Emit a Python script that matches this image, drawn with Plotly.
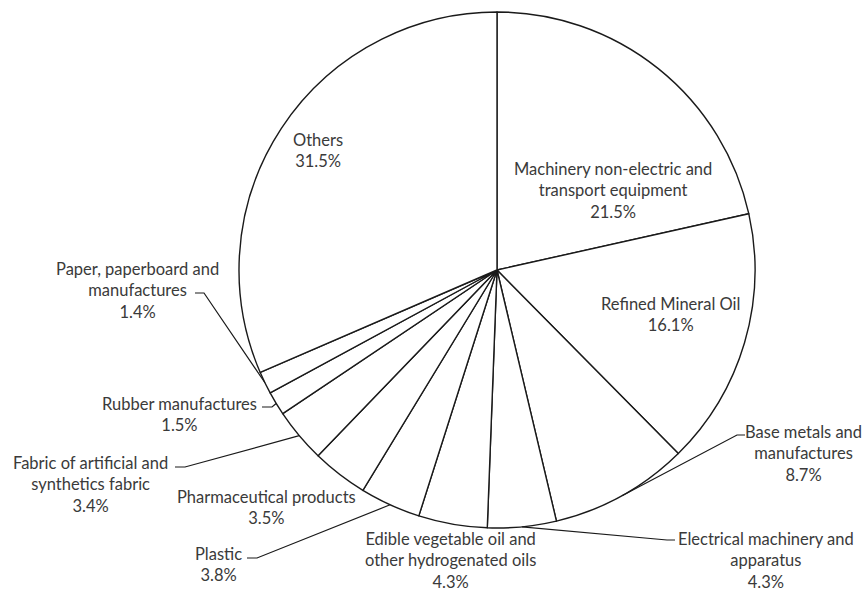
import math
import plotly.graph_objects as go

W, H = 863, 592

categories = [
    "Machinery non-electric and<br>transport equipment",
    "Refined Mineral Oil",
    "Base metals and<br>manufactures",
    "Electrical machinery and<br>apparatus",
    "Edible vegetable oil and<br>other hydrogenated oils",
    "Plastic",
    "Pharmaceutical products",
    "Fabric of artificial and<br>synthetics fabric",
    "Rubber manufactures",
    "Paper, paperboard and<br>manufactures",
    "Others",
]
shares = [21.5, 16.1, 8.7, 4.3, 4.3, 3.8, 3.5, 3.4, 1.5, 1.4, 31.5]
pct_labels = ["21.5%", "16.1%", "8.7%", "4.3%", "4.3%", "3.8%", "3.5%", "3.4%", "1.5%", "1.4%", "31.5%"]

# pie geometry (pixels)
CX, CY, R = 497, 270, 258

# label layout: text centre (px), optional leader: (x_text_end, x_elbow, y)
label_layout = [
    dict(x=613, y=191, leader=None),
    dict(x=670, y=314, leader=None),
    dict(x=803, y=453, leader=(745, 737, 435)),
    dict(x=766, y=560, leader=(675, 667, 540)),
    dict(x=450, y=560, leader=None),
    dict(x=218, y=564, leader=(247, 257, 558)),
    dict(x=266, y=507, leader=None),
    dict(x=90, y=484, leader=(175, 185, 467)),
    dict(x=179, y=414, leader=(262, 272, 407)),
    dict(x=137, y=290, leader=(195, 204, 293)),
    dict(x=318, y=150, leader=None),
]

FONT = dict(family="Lato, 'Open Sans', sans-serif", size=16.5, color="#3a3a3a")

fig = go.Figure(go.Pie(
    values=shares,
    labels=categories,
    sort=False,
    direction="clockwise",
    rotation=0,
    textinfo="none",
    hoverinfo="label+percent",
    marker=dict(colors=["white"] * len(shares), line=dict(color="#1a1a1a", width=1.4)),
    domain=dict(x=[(CX - R) / W, (CX + R) / W], y=[1 - (CY + R) / H, 1 - (CY - R) / H]),
    showlegend=False,
))

def px(x):
    return x / W

def py(y):
    return 1 - y / H

annotations = []
shapes = []
total = sum(shares)
cum = 0.0
for cat, v, p, lay in zip(categories, shares, pct_labels, label_layout):
    mid = (cum + v / 2) / total * 2 * math.pi
    cum += v
    ex = CX + R * math.sin(mid)
    ey = CY - R * math.cos(mid)
    annotations.append(dict(
        x=px(lay["x"]), y=py(lay["y"]), xref="paper", yref="paper",
        text=f"{cat}<br>{p}", showarrow=False, align="center",
        xanchor="center", yanchor="middle", font=FONT,
    ))
    if lay["leader"] is not None:
        x0, x1, yl = lay["leader"]
        shapes.append(dict(
            type="path", xref="paper", yref="paper",
            path=f"M {px(x0)} {py(yl)} L {px(x1)} {py(yl)} L {px(ex)} {py(ey)}",
            line=dict(color="#1a1a1a", width=1.2),
        ))

fig.update_layout(
    width=W, height=H,
    margin=dict(l=0, r=0, t=0, b=0),
    paper_bgcolor="white", plot_bgcolor="white",
    annotations=annotations, shapes=shapes,
)

fig.write_html("out.html")
